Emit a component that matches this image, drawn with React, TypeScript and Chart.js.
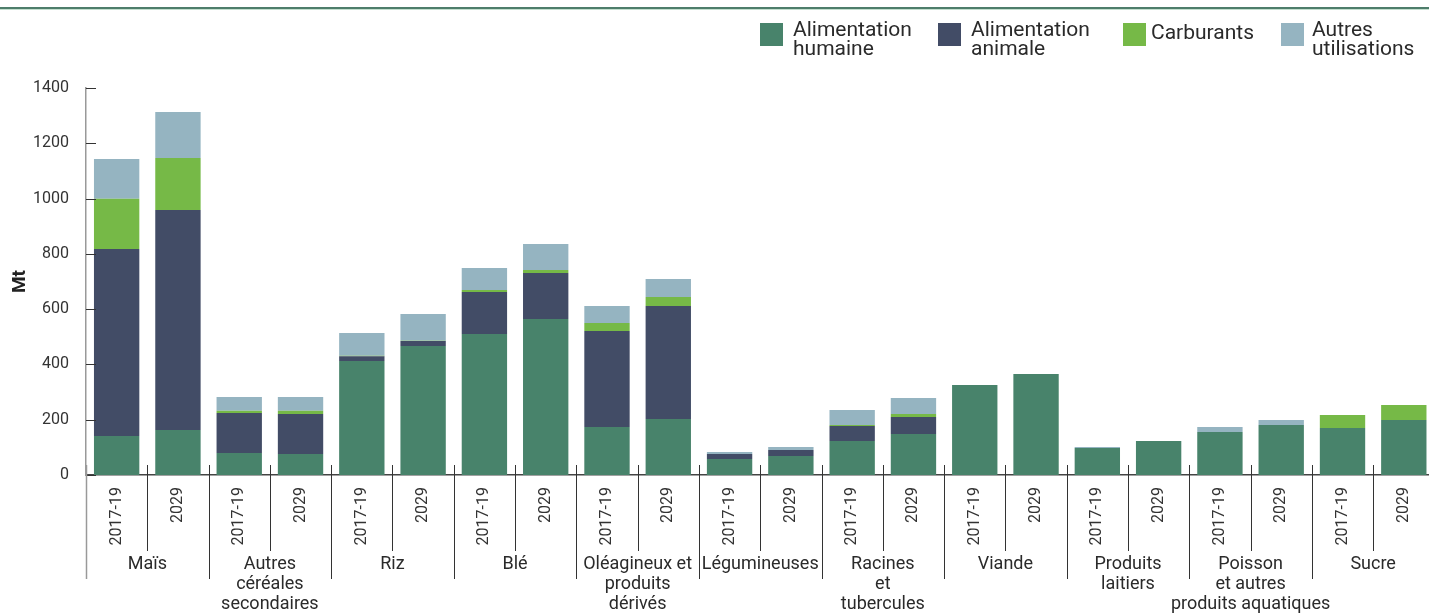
import React, { useEffect, useRef } from 'react';
import { Chart, registerables } from 'chart.js';

Chart.register(...registerables);

const FONT = 'Roboto, "DejaVu Sans", sans-serif';
const VIEW_W = 1429;
const CANVAS_W = 1435;
const CANVAS_H = 613;

const groupNames: string[][] = [
  ['Maïs'],
  ['Autres', 'céréales', 'secondaires'],
  ['Riz'],
  ['Blé'],
  ['Oléagineux et', 'produits', 'dérivés'],
  ['Légumineuses'],
  ['Racines', 'et', 'tubercules'],
  ['Viande'],
  ['Produits', 'laitiers'],
  ['Poisson', 'et autres', 'produits aquatiques'],
  ['Sucre'],
];
const periods = ['2017-19', '2029'];
const categories = groupNames.flatMap(() => periods);

// Mt
const foodValues = [141, 163, 80, 76, 412, 467, 510, 564, 174, 203, 58, 69, 123, 148, 326, 365, 98, 123, 156, 181, 170, 199];
const feedValues = [677, 796, 144, 145, 18, 18, 152, 167, 347, 408, 18, 21, 54, 62, 0, 0, 0, 0, 0, 0, 0, 0];
const fuelValues = [181, 188, 8, 11, 1, 1, 7, 11, 29, 33, 0, 0, 4, 11, 0, 0, 0, 0, 0, 0, 47, 54];
const otherValues = [144, 166, 50, 50, 83, 96, 80, 94, 61, 65, 7, 11, 54, 58, 0, 0, 3, 0, 18, 18, 0, 0];

const seriesLabels: string[][] = [
  ['Alimentation', 'humaine'],
  ['Alimentation', 'animale'],
  ['Carburants'],
  ['Autres', 'utilisations'],
];
const seriesColors = ['#48836b', '#424c66', '#76b947', '#95b4c1'];

const yMin = 0;
const yMax = 1400;
const yStep = 200;

const decorPlugin = {
  id: 'decor',
  afterDraw(chart: any) {
    const { ctx, chartArea, scales } = chart;
    const xs = scales.x;
    const ys = scales.y;
    const bottom = chartArea.bottom;
    const step = xs.getPixelForValue(1) - xs.getPixelForValue(0);
    ctx.save();

    // top rule
    ctx.fillStyle = '#4e7d6b';
    ctx.fillRect(0, 7, chart.width, 2);
    ctx.fillStyle = '#c4dfcf';
    ctx.fillRect(0, 9, chart.width, 1);

    // inward y ticks
    ctx.strokeStyle = '#333';
    ctx.lineWidth = 1;
    ys.ticks.forEach((t: any) => {
      const py = Math.round(ys.getPixelForValue(t.value)) + 0.5;
      ctx.beginPath();
      ctx.moveTo(chartArea.left, py);
      ctx.lineTo(chartArea.left + 10, py);
      ctx.stroke();
    });

    // separators
    for (let i = 0; i < categories.length; i++) {
      const bx = Math.round(xs.getPixelForValue(i) - step / 2) + 0.5;
      const isGroup = i % 2 === 0;
      ctx.strokeStyle = i === 0 ? '#999' : '#333';
      ctx.lineWidth = i === 0 ? 1.5 : 1;
      ctx.beginPath();
      ctx.moveTo(bx, bottom - 10);
      ctx.lineTo(bx, bottom + (isGroup ? 104 : 76));
      ctx.stroke();
    }

    // group labels
    ctx.fillStyle = '#2a2a2a';
    ctx.font = '18px ' + FONT;
    ctx.textAlign = 'center';
    ctx.textBaseline = 'alphabetic';
    groupNames.forEach((lines, g) => {
      const cx = (xs.getPixelForValue(2 * g) + xs.getPixelForValue(2 * g + 1)) / 2;
      lines.forEach((t, k) => ctx.fillText(t, cx, bottom + 94 + 20 * k));
    });

    // legend
    ctx.font = '21px ' + FONT;
    ctx.textAlign = 'left';
    const ds = chart.data.datasets;
    const box = 23;
    const gaps = [10, 10, 5, 8];
    const spacings = [26, 33, 27];
    const widths = seriesLabels.map((lines) => Math.max(...lines.map((l) => ctx.measureText(l).width)));
    const xpos: number[] = [];
    let xr = VIEW_W - 15;
    for (let i = ds.length - 1; i >= 0; i--) {
      const x0 = xr - (box + gaps[i] + widths[i]);
      xpos[i] = x0;
      xr = x0 - (i > 0 ? spacings[i - 1] : 0);
    }
    ds.forEach((d: any, i: number) => {
      ctx.fillStyle = d.backgroundColor;
      ctx.fillRect(Math.round(xpos[i]), 23, box, box);
      ctx.fillStyle = '#2a2a2a';
      const lines = seriesLabels[i];
      lines.forEach((t, k) => {
        const by = lines.length > 1 ? 35.5 + 19 * k : 38.5;
        ctx.fillText(t, Math.round(xpos[i]) + box + gaps[i], by);
      });
    });

    ctx.restore();
  },
};

export default function App() {
  const ref = useRef<HTMLCanvasElement>(null);

  useEffect(() => {
    if (!ref.current) return;
    Chart.defaults.font.family = FONT;
    const values = [foodValues, feedValues, fuelValues, otherValues];
    const chart = new Chart(ref.current, {
      type: 'bar',
      data: {
        labels: categories,
        datasets: values.map((v, i) => ({
          label: seriesLabels[i].join(' '),
          data: v,
          backgroundColor: seriesColors[i],
          borderWidth: 0,
          barPercentage: 0.74,
          categoryPercentage: 1,
        })),
      },
      options: {
        responsive: false,
        animation: false,
        devicePixelRatio: 1,
        layout: { padding: { top: 88, left: 0, right: 0, bottom: 0 } },
        plugins: {
          legend: { display: false },
          tooltip: { enabled: false },
        },
        scales: {
          x: {
            stacked: true,
            grid: { display: false, drawTicks: false },
            border: { display: true, color: '#444', width: 1.5 },
            ticks: {
              autoSkip: false,
              minRotation: 90,
              maxRotation: 90,
              padding: 12,
              color: '#333',
              font: { size: 16, family: FONT },
            },
            afterFit: (s: any) => {
              s.height = 138;
            },
          },
          y: {
            stacked: true,
            min: yMin,
            max: yMax,
            grid: { display: false, drawTicks: false },
            border: { display: true, color: '#999', width: 1.5 },
            ticks: {
              stepSize: yStep,
              padding: 17,
              color: '#333',
              font: { size: 16, family: FONT },
              callback: (v: any) => String(v),
            },
            title: {
              display: true,
              text: 'Mt',
              color: '#222',
              font: { size: 19, weight: 'bold', family: FONT },
              padding: { top: 9, bottom: 0 },
            },
            afterFit: (s: any) => {
              s.width = 86;
            },
          },
        },
      },
      plugins: [decorPlugin],
    });
    return () => chart.destroy();
  }, []);

  return (
    <div
      style={{
        position: 'fixed',
        left: 0,
        top: 0,
        width: VIEW_W,
        height: CANVAS_H,
        overflow: 'hidden',
        background: '#fff',
      }}
    >
      <canvas ref={ref} width={CANVAS_W} height={CANVAS_H} style={{ display: 'block' }} />
    </div>
  );
}
